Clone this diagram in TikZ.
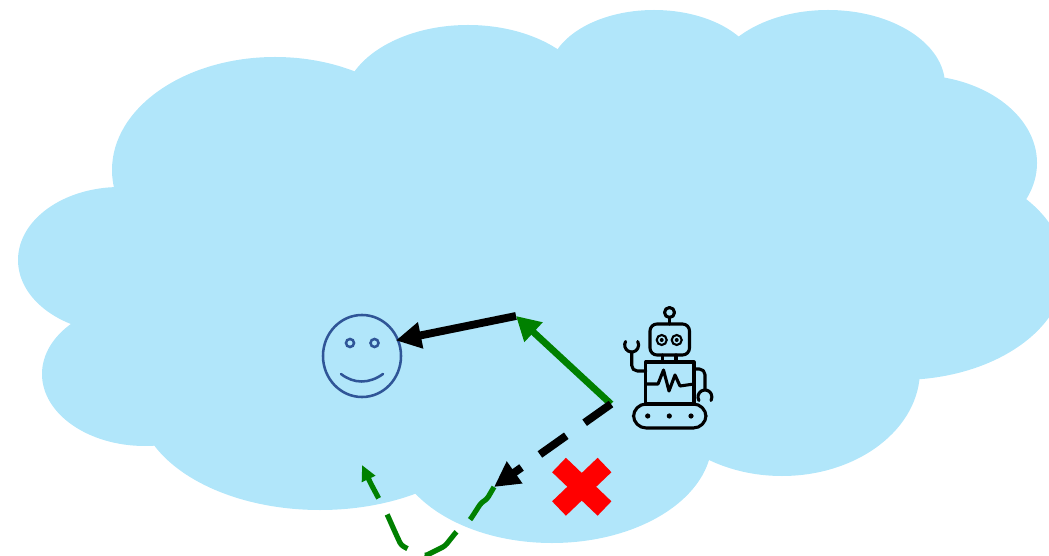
\documentclass[tikz,border=0pt]{standalone}
\usepackage{xcolor}
\usetikzlibrary{arrows.meta,shapes.geometric}
\definecolor{cloudblue}{HTML}{B1E6FA}
\definecolor{faceblue}{HTML}{2F5597}
\definecolor{pathgreen}{HTML}{008000}

\tikzset{
  robotline/.style={black, line width=2.2pt, line cap=round, line join=round},
  goodarrow/.style={pathgreen, line width=4.8pt, -{Triangle[length=17pt,width=18pt]}},
  badarrow/.style={black, line width=5.6pt, -{Triangle[length=18pt,width=18pt]}},
  wanderarrow/.style={pathgreen, line width=3.7pt, rounded corners=2pt,
    dash pattern=on 29pt off 13pt, -{Triangle[length=11pt,width=10pt]}},
}

\begin{document}
\begin{tikzpicture}[x=0.025cm, y=-0.025cm]

  \useasboundingbox (0,0) rectangle (1049,556);
  \clip (0,0) rectangle (1049,556);

  % ── Cloud ─────────────────────────────────────────────────────
  \foreach \cx/\cy/\rx/\ry in {275/170/163/113, 468/105/125/80, 654/75/105/65,
      828/85/117/75, 915/163/122/88, 900/270/165/110, 782/370/138/106,
      552/440/160/103, 320/400/182/110, 145/374/103/72, 120/260/102/73}
    \fill[cloudblue] (\cx,\cy) ellipse [x radius=\rx, y radius=\ry];
  \fill[cloudblue] (150,300) -- (300,120) -- (500,90) -- (820,90) -- (950,250) -- (800,430) -- (200,430) -- cycle;

  % ── Smiley ────────────────────────────────────────────────────
  \node[ellipse, draw=faceblue, line width=1.8pt, minimum width=1.95cm, minimum height=2.05cm,
    inner sep=0pt, outer sep=0pt] (face) at (362,356) {};
  \draw[faceblue, line width=1.8pt] (350,343) circle (4);
  \draw[faceblue, line width=1.8pt] (374.5,343) circle (4);
  \draw[faceblue, line width=1.8pt, line cap=round] (341,374) .. controls (354,384) and (369,384) .. (383,374);

  % ── Red cross ─────────────────────────────────────────────────
  \draw[red, line width=14.2pt] (559,465) -- (604.5,508.5);
  \draw[red, line width=14.2pt] (604.5,465) -- (559,508.5);

  % ── Arrows ────────────────────────────────────────────────────
  \coordinate (start) at (611,404);
  \coordinate (turn) at (516,316);
  \coordinate (wrong) at (494,487);
  \coordinate (lost) at (362,465);

  \draw[badarrow, shorten >=-1.5pt] (turn) -- (face.24);
  \draw[goodarrow] (start) -- (turn);
  \draw[badarrow, dash pattern=on 23pt off 16pt] (start) -- (wrong);
  \draw[wanderarrow] (wrong) -- (487,499) -- (481,503) -- (470,520) -- (457,531) -- (445,546)
    -- (425,556) -- (408,549) -- (401,545) -- (395,532) -- (387,514) -- (379,499) -- (371,484) -- (lost);

  % ── Robot ─────────────────────────────────────────────────────
  \draw[robotline] (669.5,312.5) circle (5);
  \draw[robotline] (669.5,317.5) -- (669.5,324);
  \draw[robotline, rounded corners=5pt] (650,324) rectangle (689.5,355);
  \foreach \ex in {661.7,676.7} {
    \draw[black, line width=1.5pt] (\ex,340) circle (5);
    \fill[black] (\ex,340) circle (2);
  }
  \draw[robotline] (662.7,355) -- (662.7,362);
  \draw[robotline] (676,355) -- (676,362);
  \draw[robotline] (645.7,362) rectangle (694,404);
  \draw[robotline] (645.7,384) -- (658,384) -- (663.5,370) -- (669,391) -- (675,375) -- (680,386) -- (694,384);
  \draw[robotline, rounded corners=9pt] (633.5,404) rectangle (706,428);
  \foreach \dx in {647.7,669.3,691}
    \fill[black] (\dx,416) circle (2.6);
  % left arm with hook
  \draw[robotline, rounded corners=4pt] (645.7,371) -- (631.7,371) -- (631.7,352);
  \draw[robotline] (625.6,341.5) arc [start angle=210, end angle=-30, radius=7];
  % right arm with hook
  \draw[robotline, rounded corners=4pt] (694,369) -- (705,369) -- (705,390);
  \draw[robotline] (698.9,400.5) arc [start angle=150, end angle=390, radius=7];

\end{tikzpicture}
\end{document}
